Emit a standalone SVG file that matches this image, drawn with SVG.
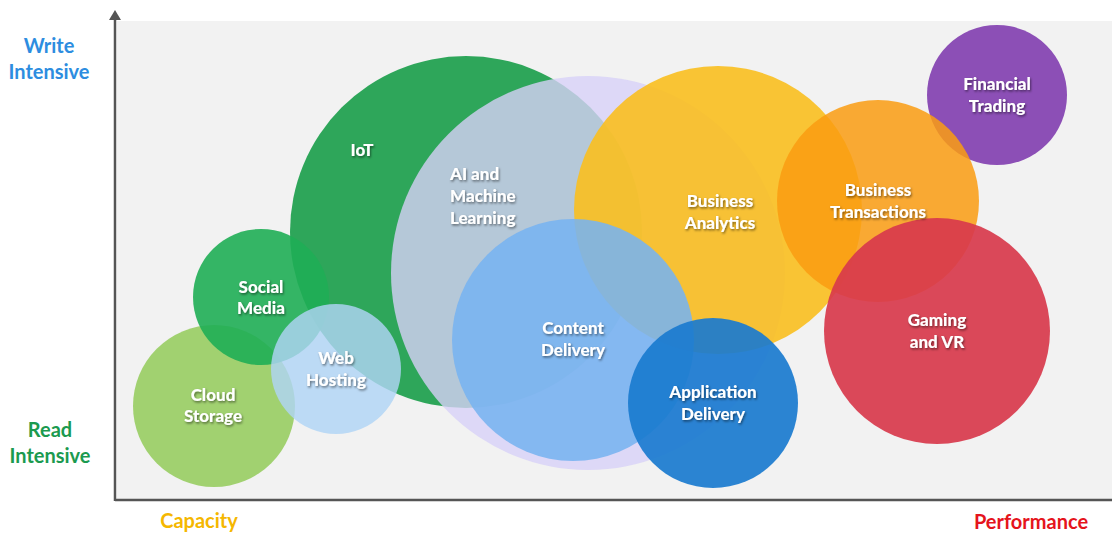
<svg xmlns="http://www.w3.org/2000/svg" width="1112" height="533" viewBox="0 0 1112 533">
<defs>
<filter id="sh" x="-20%" y="-30%" width="140%" height="170%">
<feDropShadow dx="1" dy="1.5" stdDeviation="0.8" flood-color="#000" flood-opacity="0.5"/>
</filter>
</defs>
<style>
.lbl{font-family:Lato,"Open Sans","Liberation Sans",sans-serif;font-weight:900;font-size:17px;fill:#fff;text-anchor:middle;filter:url(#sh)}
.ax{font-family:Lato,"Open Sans","Liberation Sans",sans-serif;font-weight:bold;font-size:20px;text-anchor:middle}
</style>
<rect width="1112" height="533" fill="#fff"/>
<rect x="117" y="21" width="995" height="478" fill="#f2f2f2"/>

<g id="connectors">
<line x1="115" y1="500" x2="1112" y2="500" stroke="#555" stroke-width="2.5"/>
<line x1="115" y1="501" x2="115" y2="18" stroke="#555" stroke-width="2.5"/>
<polygon points="115,10 121,20 109,20" fill="#555"/>
</g>

<g id="iot"><circle cx="466" cy="232" r="176" fill="#2ea65a"/></g>
<g id="ai"><circle cx="588" cy="273" r="197" fill="#d7d1f7" fill-opacity="0.8"/></g>
<g id="cloud-storage"><circle cx="214" cy="406" r="81" fill="#9ccf68" fill-opacity="0.95"/></g>
<g id="social-media"><circle cx="261" cy="297" r="68" fill="#1fae55" fill-opacity="0.9"/></g>
<g id="web-hosting"><circle cx="336" cy="369" r="65" fill="#b0d4f5" fill-opacity="0.82"/></g>
<g id="business-analytics"><circle cx="718" cy="210" r="144" fill="#f9bf1f" fill-opacity="0.9"/></g>
<g id="content-delivery"><circle cx="573" cy="340" r="121" fill="#77b3f0" fill-opacity="0.88"/></g>
<g id="application-delivery"><circle cx="713" cy="403" r="85" fill="#1a7bcf" fill-opacity="0.92"/></g>
<g id="financial-trading"><circle cx="997" cy="95" r="70" fill="#8c4fb6"/></g>
<g id="business-transactions"><circle cx="878" cy="201" r="101" fill="#fa9c12" fill-opacity="0.85"/></g>
<g id="gaming-vr"><circle cx="937" cy="331" r="113" fill="#d83a4c" fill-opacity="0.92"/></g>

<g id="labels">
<text class="lbl" x="362" y="156">IoT</text>
<text class="lbl" x="450" y="180" style="text-anchor:start">AI and</text>
<text class="lbl" x="450" y="202" style="text-anchor:start">Machine</text>
<text class="lbl" x="450" y="224" style="text-anchor:start">Learning</text>
<text class="lbl" x="720" y="207">Business</text>
<text class="lbl" x="720" y="229">Analytics</text>
<text class="lbl" x="878" y="196">Business</text>
<text class="lbl" x="878" y="218">Transactions</text>
<text class="lbl" x="997" y="90">Financial</text>
<text class="lbl" x="997" y="112">Trading</text>
<text class="lbl" x="937" y="326">Gaming</text>
<text class="lbl" x="937" y="348">and VR</text>
<text class="lbl" x="261" y="293">Social</text>
<text class="lbl" x="261" y="314">Media</text>
<text class="lbl" x="336" y="364">Web</text>
<text class="lbl" x="336" y="386">Hosting</text>
<text class="lbl" x="213" y="401">Cloud</text>
<text class="lbl" x="213" y="422">Storage</text>
<text class="lbl" x="573" y="334">Content</text>
<text class="lbl" x="573" y="356">Delivery</text>
<text class="lbl" x="713" y="398">Application</text>
<text class="lbl" x="713" y="420">Delivery</text>
</g>

<g id="axis-labels">
<text class="ax" x="49" y="53" fill="#2d8de0">Write</text>
<text class="ax" x="49" y="79" fill="#2d8de0">Intensive</text>
<text class="ax" x="50" y="437" fill="#1b9a4f">Read</text>
<text class="ax" x="50" y="463" fill="#1b9a4f">Intensive</text>
<text class="ax" x="199" y="528" fill="#f5b700">Capacity</text>
<text class="ax" x="1031" y="529" fill="#e5141c">Performance</text>
</g>
</svg>
